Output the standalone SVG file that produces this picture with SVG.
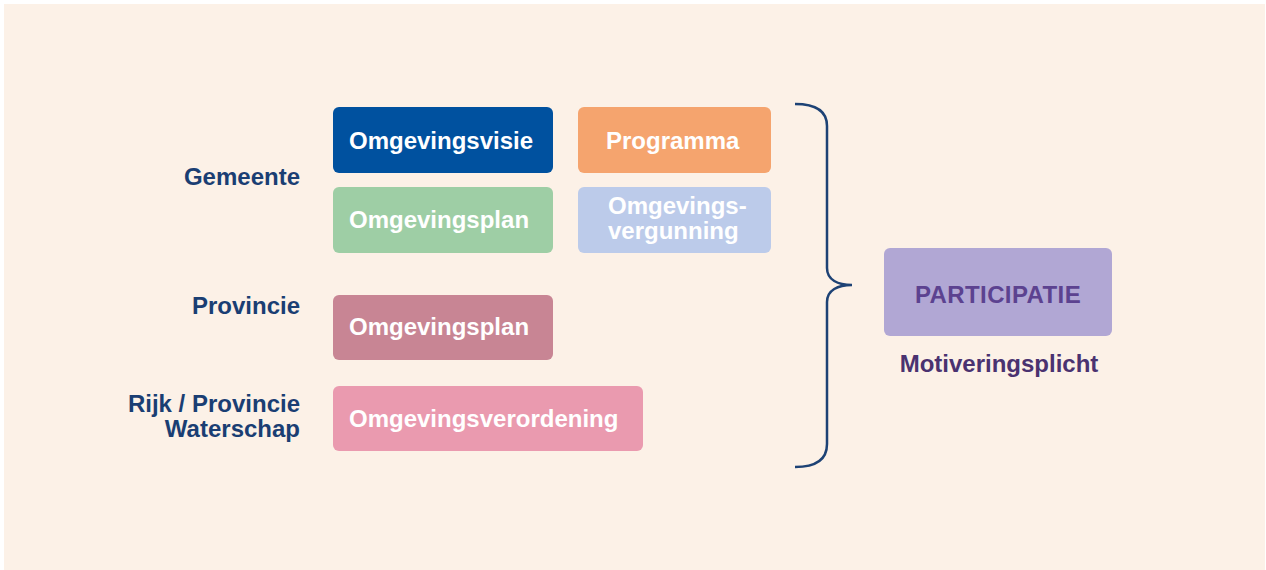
<svg xmlns="http://www.w3.org/2000/svg" width="1266" height="570" viewBox="0 0 1266 570">
  <style>
    .lbl { font-family: "Liberation Sans", Arial, sans-serif; font-weight: bold; font-size: 24px; fill: #1a3e73; text-anchor: end; }
    .bt { font-family: "Liberation Sans", Arial, sans-serif; font-weight: bold; font-size: 24px; fill: #ffffff; }
    .box { rx: 6px; ry: 6px; }
  </style>
  <rect x="0" y="0" width="1266" height="570" fill="#ffffff"/>
  <rect x="4" y="4" width="1261" height="566" fill="#fcf1e7"/>

  <g id="labels">
    <text class="lbl" x="300" y="185">Gemeente</text>
    <text class="lbl" x="300" y="314">Provincie</text>
    <text class="lbl" x="300" y="412">Rijk / Provincie</text>
    <text class="lbl" x="300" y="437">Waterschap</text>
  </g>

  <g id="omgevingsvisie">
    <rect class="box" x="333" y="107" width="220" height="66" fill="#00519f"/>
    <text class="bt" x="349" y="149">Omgevingsvisie</text>
  </g>
  <g id="programma">
    <rect class="box" x="578" y="107" width="193" height="66" fill="#f5a46e"/>
    <text class="bt" x="606" y="149">Programma</text>
  </g>
  <g id="omgevingsplan-gemeente">
    <rect class="box" x="333" y="187" width="220" height="66" fill="#9ecea5"/>
    <text class="bt" x="349" y="228">Omgevingsplan</text>
  </g>
  <g id="omgevingsvergunning">
    <rect class="box" x="578" y="187" width="193" height="66" fill="#bccbea"/>
    <text class="bt" x="608" y="214">Omgevings-</text>
    <text class="bt" x="608" y="239">vergunning</text>
  </g>
  <g id="omgevingsplan-provincie">
    <rect class="box" x="333" y="295" width="220" height="65" fill="#c88594"/>
    <text class="bt" x="349" y="335">Omgevingsplan</text>
  </g>
  <g id="omgevingsverordening">
    <rect class="box" x="333" y="386" width="310" height="65" fill="#ea9aaf"/>
    <text class="bt" x="349" y="427">Omgevingsverordening</text>
  </g>

  <g id="connectors">
    <path d="M795,104 C815,104 827,110 827,126 L827,268 C827,280 838,285 852,285 C838,285 827,290 827,302 L827,444 C827,460 815,467 795,467" fill="none" stroke="#1d4275" stroke-width="2.5"/>
  </g>

  <g id="participatie">
    <rect class="box" x="884" y="248" width="228" height="88" fill="#b1a7d4"/>
    <text x="998" y="303" text-anchor="middle" font-family="Liberation Sans, Arial, sans-serif" font-weight="bold" font-size="24" fill="#5c4290" letter-spacing="0.4">PARTICIPATIE</text>
    <text x="999" y="372" text-anchor="middle" font-family="Liberation Sans, Arial, sans-serif" font-weight="bold" font-size="24" fill="#4a3270">Motiveringsplicht</text>
  </g>
</svg>
